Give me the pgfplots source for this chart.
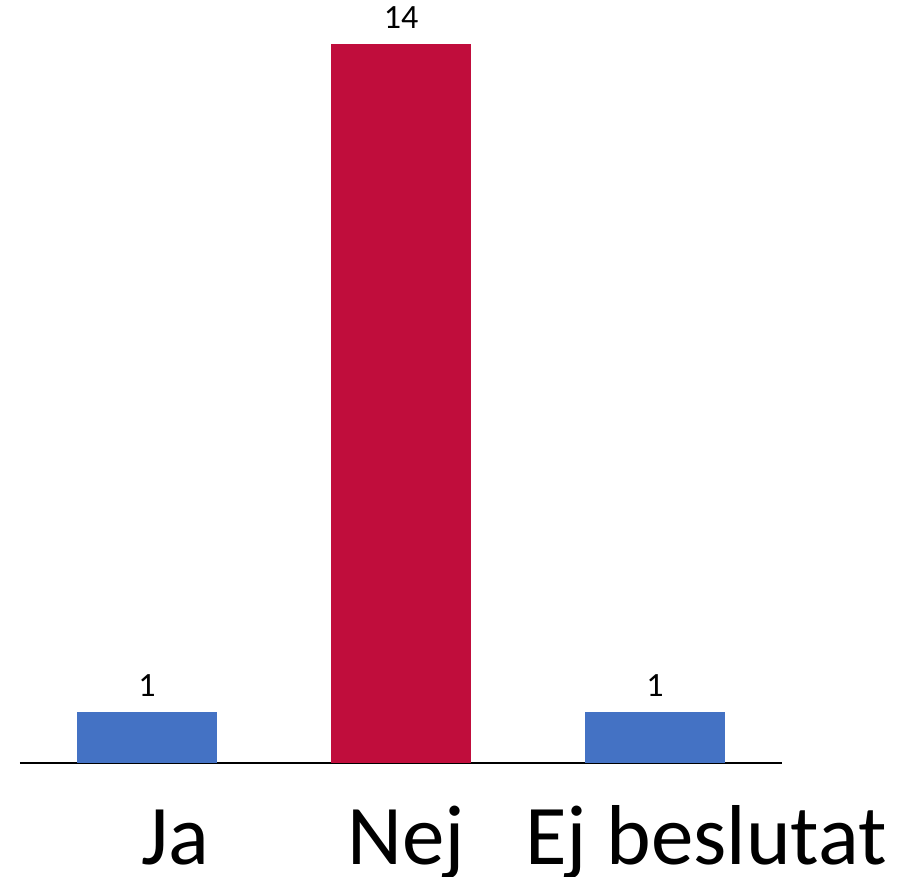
\documentclass[border=0pt]{standalone}
\usepackage{fontspec}
\setmainfont{Carlito}
\usepackage{pgfplots}
\pgfplotsset{compat=1.18}
\definecolor{barblue}{HTML}{4472C4}
\definecolor{barred}{HTML}{C00D3C}
\begin{document}
\begin{tikzpicture}
\path[use as bounding box] (-20pt,-113pt) rectangle (882pt,763pt);
\begin{axis}[
  at={(0pt,0pt)}, anchor=south west,
  scale only axis,
  width=762pt, height=719pt,
  xmin=-0.5, xmax=2.5, ymin=0, ymax=14,
  axis x line*=bottom, axis y line=none,
  x axis line style={-, line width=1.2pt, black},
  xtick={0,1,2},
  xticklabels={\hspace*{56pt}Ja,\hspace*{10pt}Nej,\hspace*{102pt}Ej beslutat},
  xtick style={draw=none},
  xticklabel style={font=\fontsize{85}{90}\selectfont, anchor=base, yshift=-97pt, inner sep=0pt},
  ybar, bar width=140pt, bar shift=0pt,
  nodes near coords,
  /pgf/number format/assume math mode=true,
  every node near coord/.append style={font=\fontsize{34}{40}\selectfont, anchor=base, yshift=15pt, inner sep=0pt, black},
  clip=false,
]
\addplot[fill=barblue, draw=none] coordinates {(0,1)};
\addplot[fill=barred, draw=none] coordinates {(1,14)};
\addplot[fill=barblue, draw=none] coordinates {(2,1)};
\end{axis}
\end{tikzpicture}
\end{document}
